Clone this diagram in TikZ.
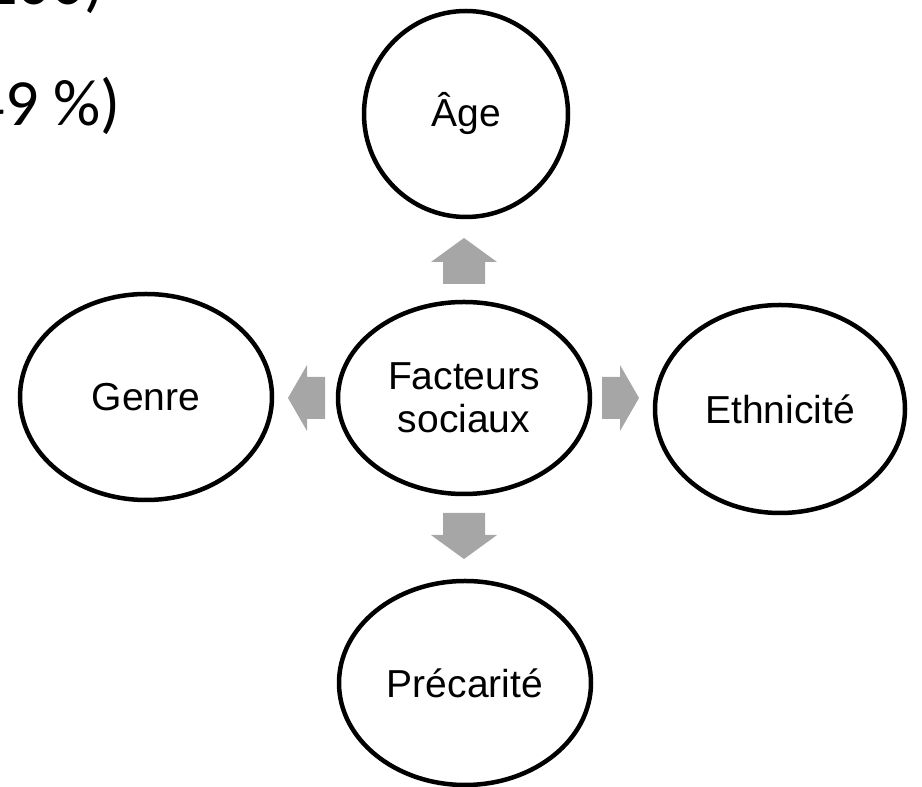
\documentclass[tikz,border=0pt]{standalone}
\usepackage{fontspec}
\setmainfont{Liberation Sans}
\newfontfamily\slidefont{Carlito}
\usetikzlibrary{shapes.geometric}
\definecolor{arrowgrey}{RGB}{166,166,166}
\begin{document}
\begin{tikzpicture}
  [x=1pt,y=1pt,every node/.style={ellipse,draw,line width=4.5pt,inner sep=0pt,
   align=center,font=\fontsize{39}{43}\selectfont}]
  \path[clip] (0,0) rectangle (922,787);
  \node[rectangle,draw=none,anchor=base east,font=\slidefont\fontsize{66}{80}\selectfont] (l1) at (107,782) {200)};
  \node[rectangle,draw=none,anchor=base east,font=\slidefont\fontsize{66}{80}\selectfont] (l2) at (123,661) {49 \%)};
  \node[minimum width=204pt,minimum height=206pt] (age) at (466,673) {Âge};
  \node[minimum width=252pt,minimum height=192pt] (fac) at (464,389) {Facteurs\\sociaux};
  \node[minimum width=252pt,minimum height=206pt] (genre) at (146,390) {Genre};
  \node[minimum width=250pt,minimum height=208pt] (eth) at (780,378) {Ethnicité};
  \node[minimum width=252pt,minimum height=204pt] (prec) at (465,104) {Précarité};
  \foreach \ang/\d/\s/\h in {90/114/22/24, 270/115/22/24, 180/139/18/19, 0/138/18/19}
    \fill[arrowgrey,shift={(fac.center)},rotate=\ang]
      (\d,-21) -- (\d+\s,-21) -- (\d+\s,-33) -- (\d+\s+\h,0)
      -- (\d+\s,33) -- (\d+\s,21) -- (\d,21) -- cycle;
\end{tikzpicture}
\end{document}
